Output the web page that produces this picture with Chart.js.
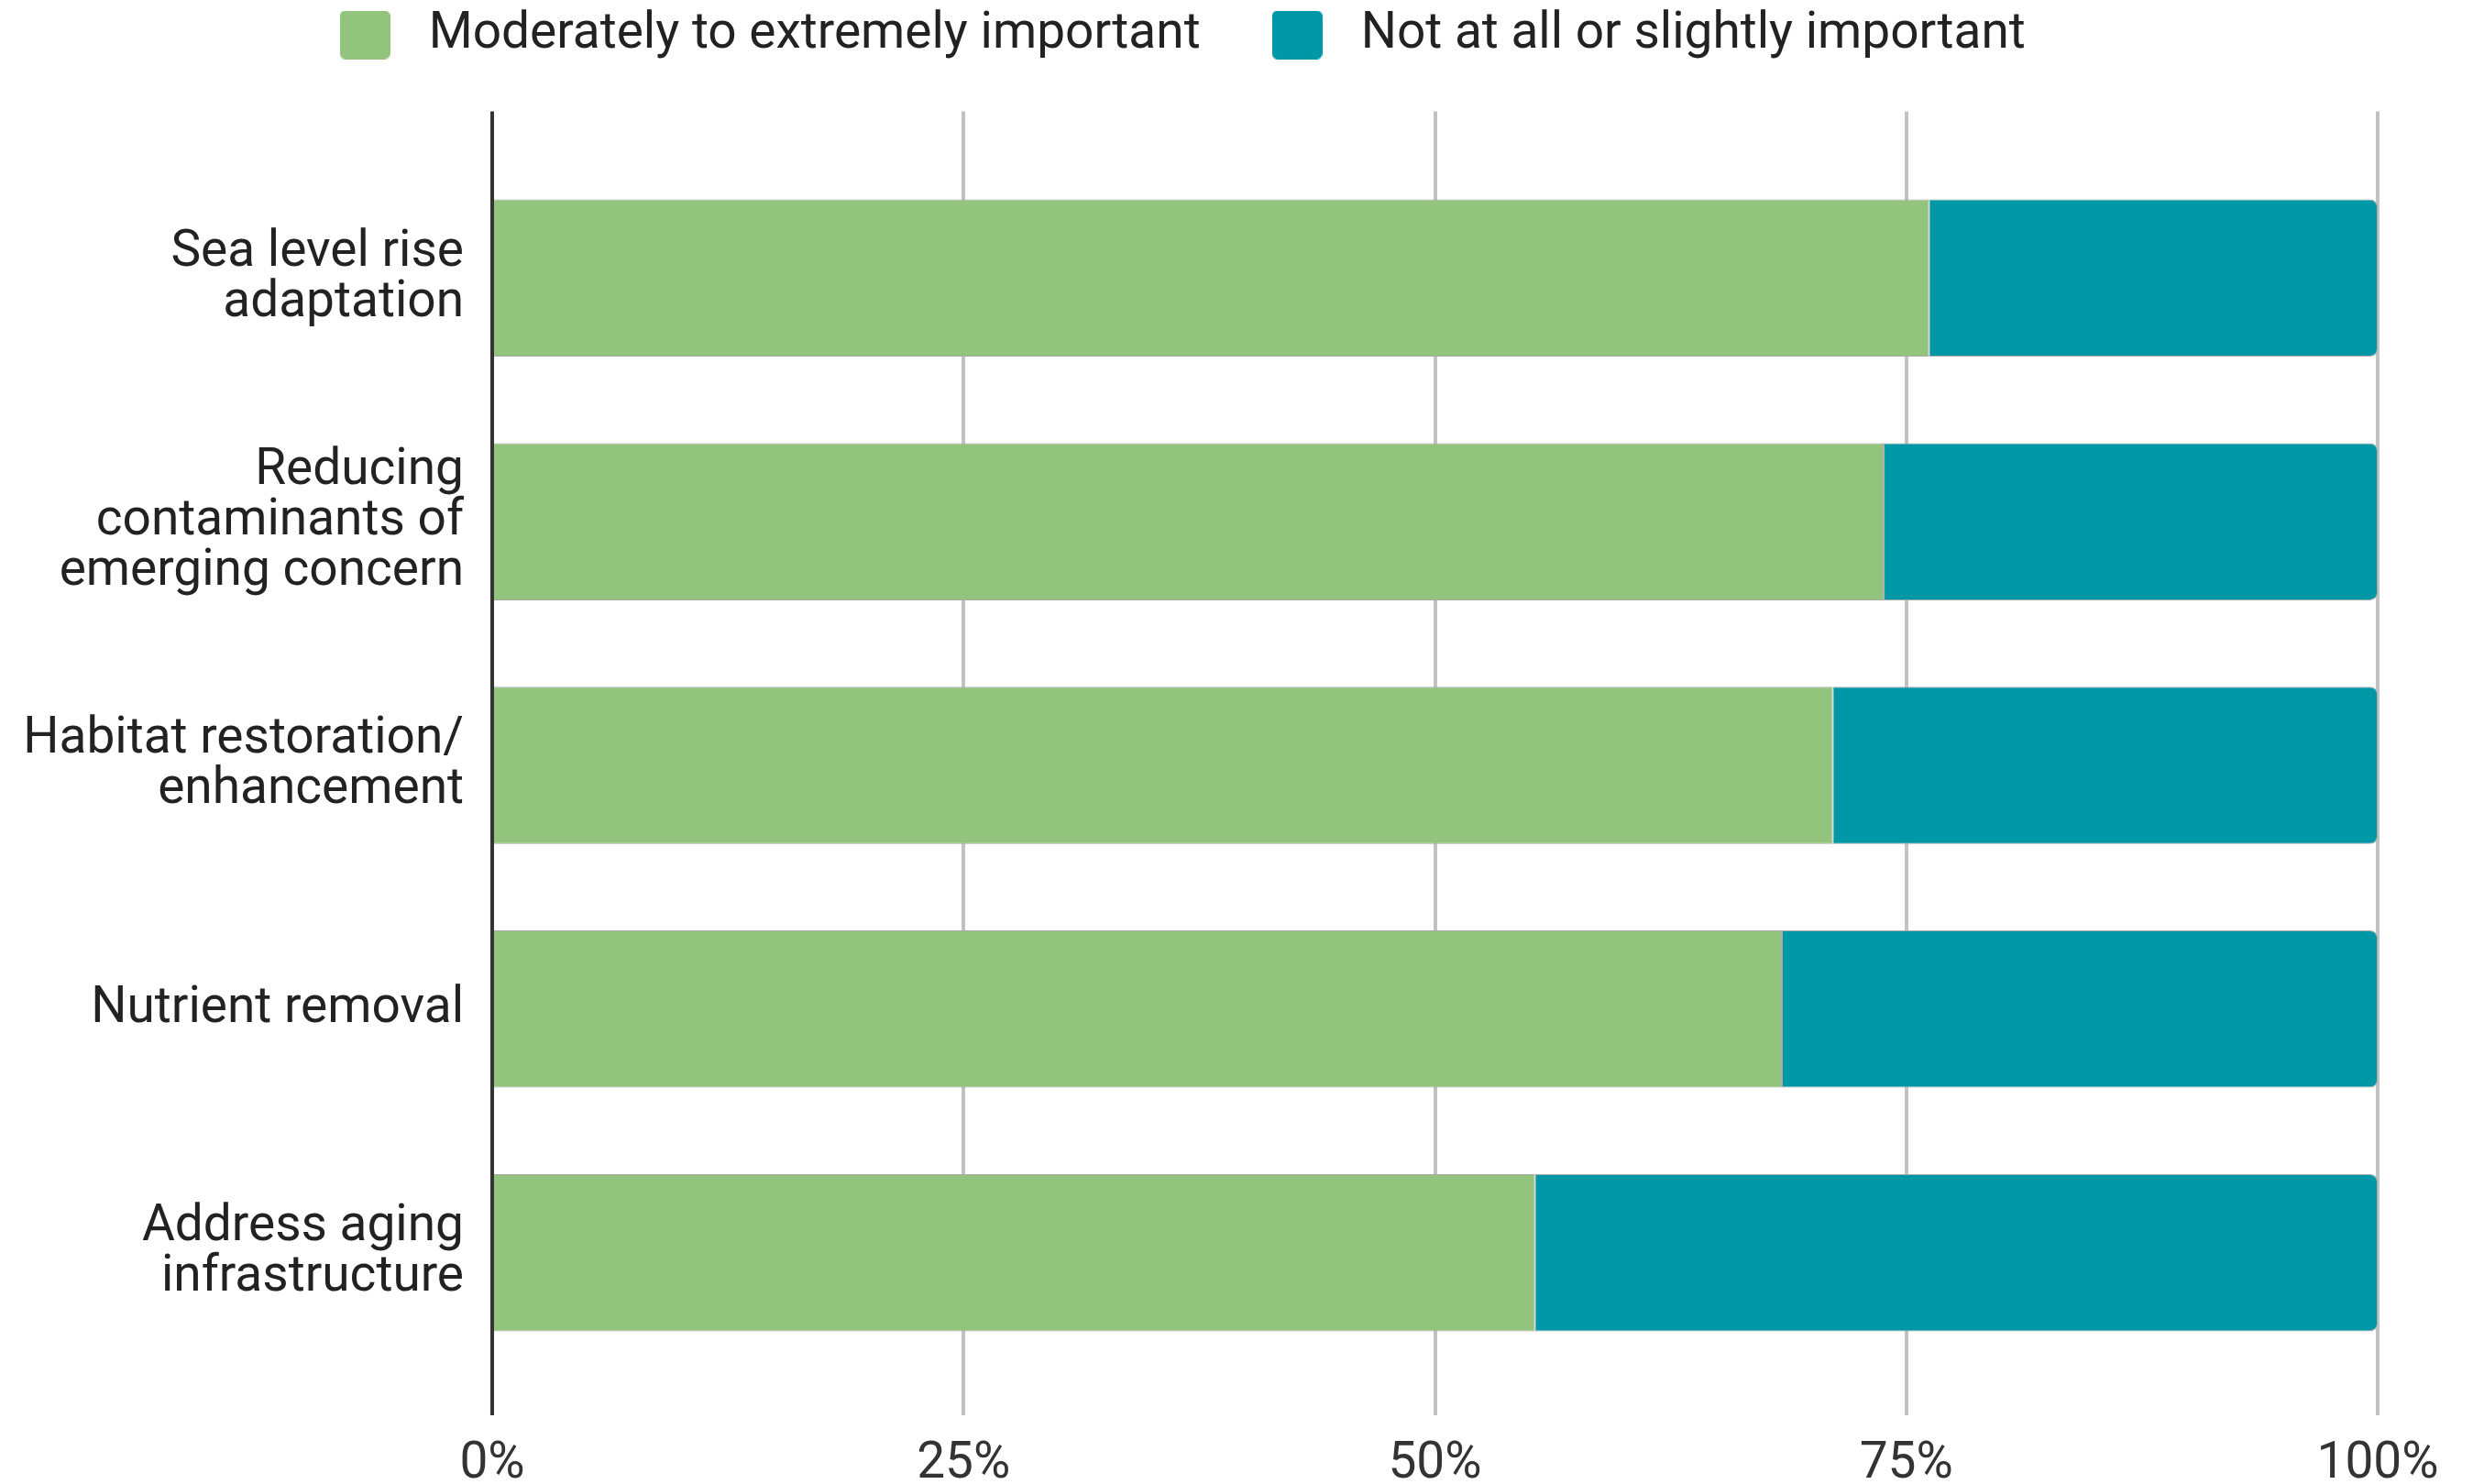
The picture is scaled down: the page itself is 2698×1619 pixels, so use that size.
<!DOCTYPE html>
<html>
<head>
<meta charset="utf-8">
<script src="https://cdn.jsdelivr.net/npm/chart.js@4"></script>
<style>
  html, body { margin: 0; padding: 0; background: #fff; }
  #chart { display: block; }
</style>
</head>
<body>
<canvas id="chart" width="2698" height="1619"></canvas>
<script>
// Priorities survey — share of respondents rating each topic

const categories = [
    ['Sea level rise', 'adaptation'],
    ['Reducing', 'contaminants of', 'emerging concern'],
    ['Habitat restoration/', 'enhancement'],
    ['Nutrient removal'],
    ['Address aging', 'infrastructure']
];

const seriesNames = ['Moderately to extremely important', 'Not at all or slightly important'];

const importantShare = [76.2, 73.8, 71.1, 68.4, 55.3];
const notImportantShare = [23.8, 26.2, 28.9, 31.6, 44.7];

const percentTicks = [0, 25, 50, 75, 100];

const GREEN = '#93c47d';
const TEAL = '#0097a7';
const FONT = 'Roboto';
const FONT_SIZE = 55;

// bars sit on a numeric index axis so the axis line can run past the first/last row
const toPoints = arr => arr.map((v, i) => ({ x: v, y: i }));

// rounded square used as the legend marker
function swatch(color) {
    const c = document.createElement('canvas');
    c.width = 55;
    c.height = 53;
    const g = c.getContext('2d');
    g.fillStyle = color;
    g.beginPath();
    g.roundRect(0, 0, 55, 53, 6);
    g.fill();
    return c;
}

const ctx = document.getElementById('chart').getContext('2d');

new Chart(ctx, {
    type: 'bar',
    data: {
        datasets: [
            {
                label: seriesNames[0],
                data: toPoints(importantShare),
                backgroundColor: GREEN,
                borderColor: '#a9a9a9',
                borderWidth: 1,
                borderSkipped: 'start',
                grouped: false,
                categoryPercentage: 1,
                barPercentage: 0.645,
                pointStyle: swatch(GREEN)
            },
            {
                label: seriesNames[1],
                data: toPoints(notImportantShare),
                backgroundColor: TEAL,
                borderColor: '#a9a9a9',
                borderWidth: 1,
                borderRadius: { topLeft: 0, bottomLeft: 0, topRight: 8, bottomRight: 8 },
                borderSkipped: false,
                grouped: false,
                categoryPercentage: 1,
                barPercentage: 0.645,
                pointStyle: swatch(TEAL)
            }
        ]
    },
    options: {
        indexAxis: 'y',
        responsive: false,
        devicePixelRatio: 1,
        animation: false,
        layout: { padding: { top: -53, right: 104, bottom: -34, left: -28 } },
        plugins: {
            legend: {
                position: 'top',
                labels: {
                    usePointStyle: true,
                    pointStyleWidth: 84,
                    padding: 63.5,
                    color: '#222',
                    font: { family: FONT, size: FONT_SIZE }
                }
            },
            // empty title used as a gap between the legend and the plot
            title: {
                display: true,
                text: '',
                weight: 500,
                font: { size: 1, lineHeight: 1 },
                padding: { top: 45, bottom: 0 }
            },
            tooltip: { enabled: false }
        },
        scales: {
            x: {
                type: 'linear',
                stacked: true,
                min: 0,
                max: 100,
                afterBuildTicks: s => { s.ticks = percentTicks.map(v => ({ value: v })); },
                ticks: {
                    color: '#333',
                    padding: 27,
                    font: { family: FONT, size: FONT_SIZE, lineHeight: 1 },
                    callback: v => v + '%'
                },
                grid: {
                    drawTicks: false,
                    lineWidth: 4,
                    color: c => (c.tick && c.tick.value === 0) ? '#333333' : '#c2c2c2'
                },
                border: { display: false }
            },
            y: {
                type: 'linear',
                reverse: true,
                offset: false,
                min: -0.684,
                max: 4.667,
                afterBuildTicks: s => { s.ticks = categories.map((_, i) => ({ value: i })); },
                afterFit: s => {
                    s.width = 565;
                    // rows are well inside the axis range, no label overhang to reserve
                    s.paddingTop = 0;
                    s.paddingBottom = 0;
                },
                ticks: {
                    color: '#222',
                    padding: 31,
                    autoSkip: false,
                    font: { family: FONT, size: FONT_SIZE, lineHeight: '55px' },
                    callback: v => categories[v]
                },
                grid: { display: false, drawTicks: false },
                border: { display: false }
            }
        }
    }
});
</script>
</body>
</html>
